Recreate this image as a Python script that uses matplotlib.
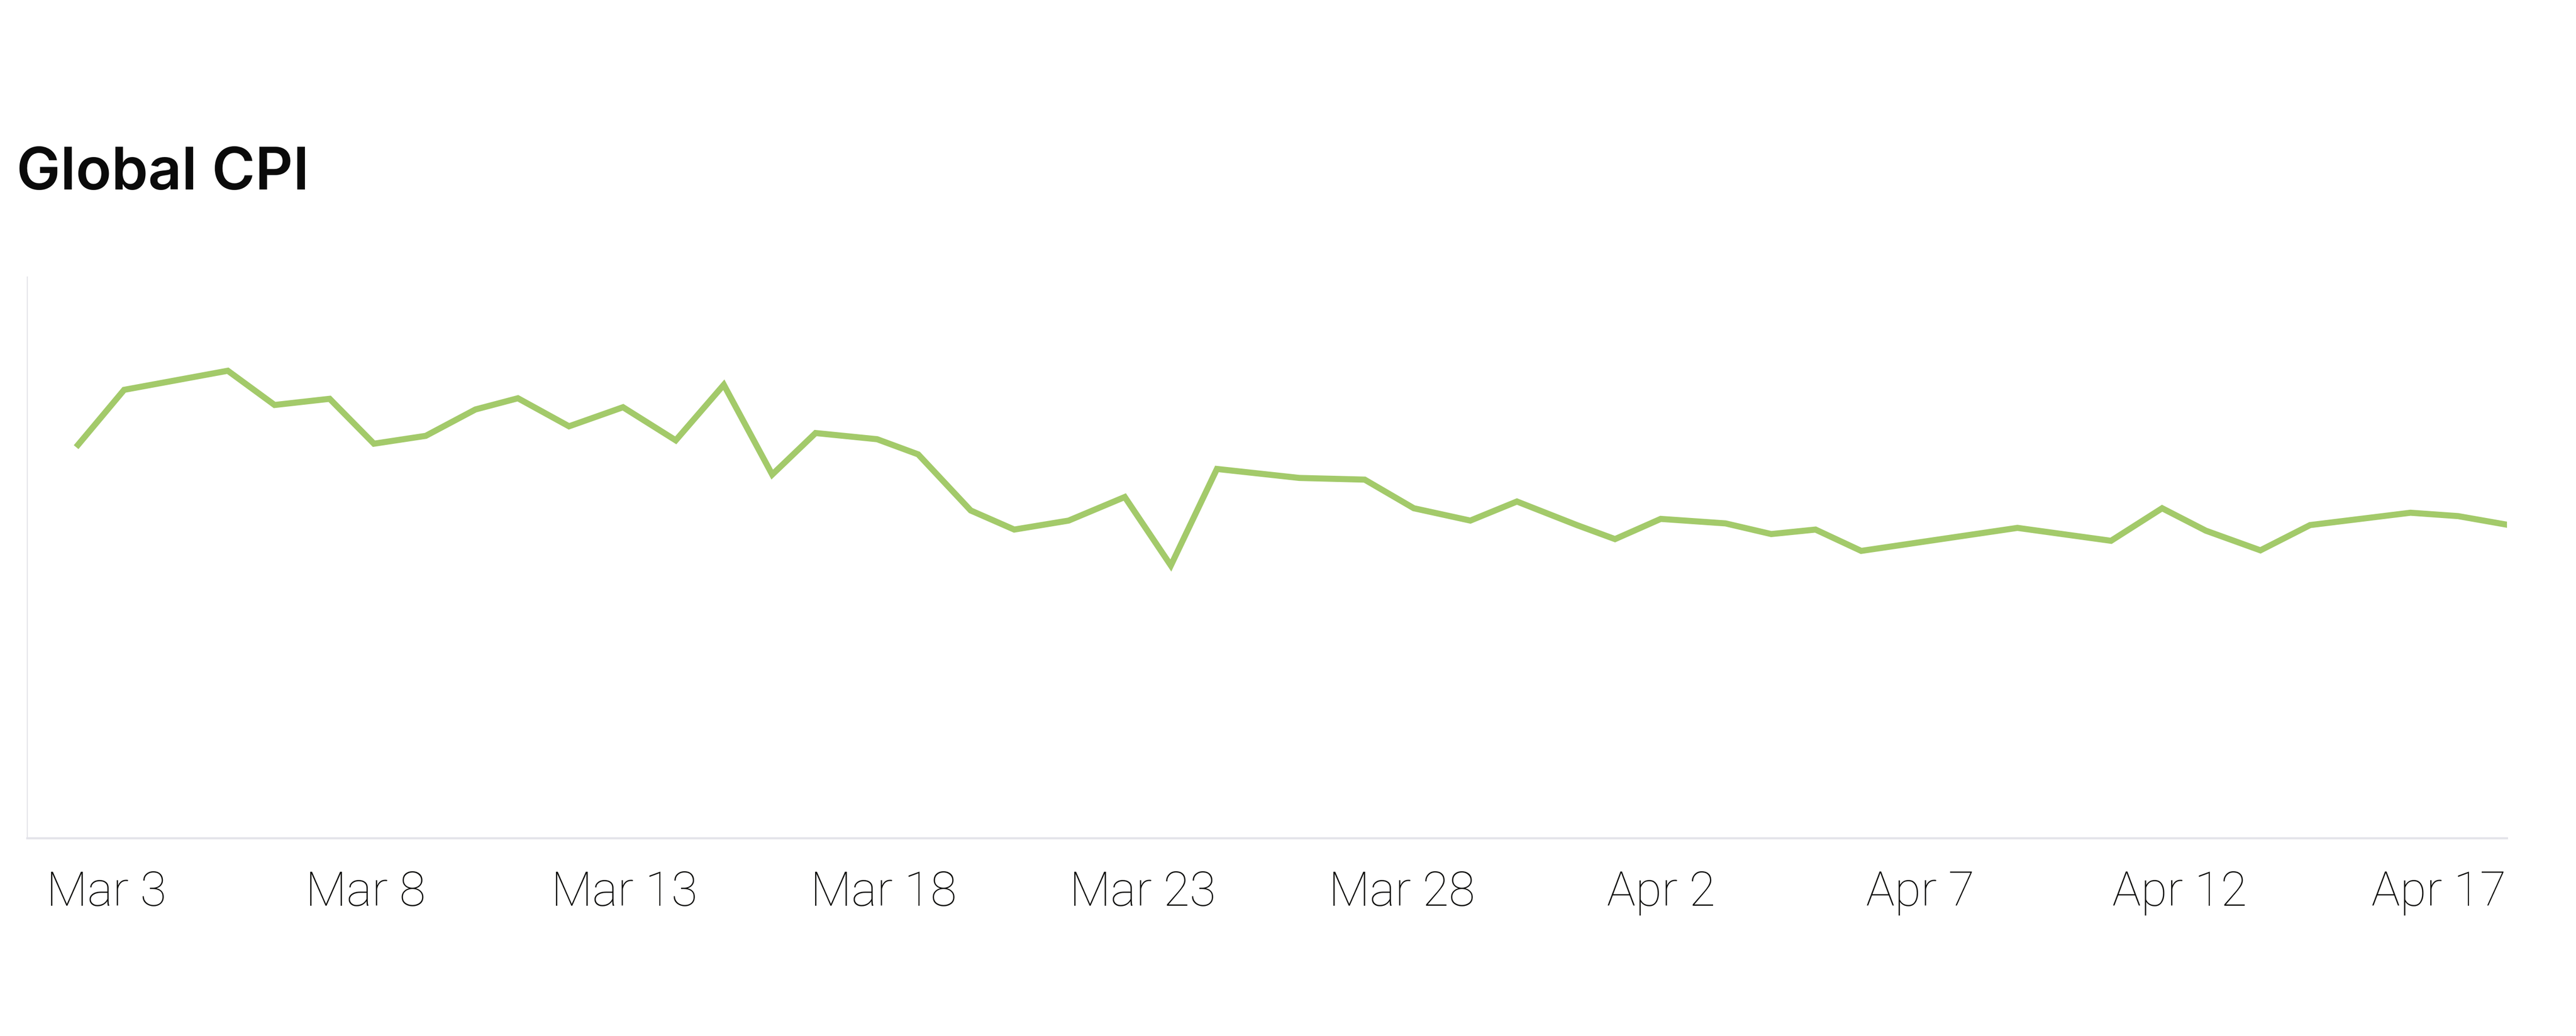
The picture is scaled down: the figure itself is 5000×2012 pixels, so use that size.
import matplotlib
matplotlib.use("Agg")
from matplotlib import pyplot as plt
import matplotlib.dates as mdates
import pandas as pd

# readings taken off the chart (index scale, axis bottom = 0, axis top = 100)
times = [
    "2024-03-02 11:00", "2024-03-03 08:20", "2024-03-05 08:20", "2024-03-06 06:00",
    "2024-03-07 07:30", "2024-03-08 04:00", "2024-03-09 04:00", "2024-03-10 03:00",
    "2024-03-10 22:40", "2024-03-11 22:20", "2024-03-12 23:20", "2024-03-13 23:45",
    "2024-03-14 22:00", "2024-03-15 20:25", "2024-03-16 16:30", "2024-03-17 21:00",
    "2024-03-18 16:00", "2024-03-19 16:20", "2024-03-20 12:30", "2024-03-21 13:40",
    "2024-03-22 15:40", "2024-03-23 13:00", "2024-03-24 10:20", "2024-03-26 00:30",
    "2024-03-27 06:45", "2024-03-28 05:30", "2024-03-29 07:40", "2024-03-30 05:15",
    "2024-03-31 09:00", "2024-04-01 02:40", "2024-04-01 23:50", "2024-04-03 05:50",
    "2024-04-04 03:00", "2024-04-04 23:30", "2024-04-05 20:40", "2024-04-08 21:00",
    "2024-04-10 16:20", "2024-04-11 16:00", "2024-04-12 12:15", "2024-04-13 13:30",
    "2024-04-14 12:30", "2024-04-16 11:00", "2024-04-17 09:00", "2024-04-18 07:10",
]
cpi = [
    70.1, 79.9, 83.3, 77.2, 78.3, 70.3, 71.7, 76.4, 78.4, 73.4, 76.8, 70.9,
    80.8, 64.8, 72.2, 71.1, 68.4, 58.4, 55.0, 56.6, 60.8, 48.6, 65.8, 64.2,
    63.9, 58.8, 56.6, 60.0, 55.8, 53.3, 56.9, 56.1, 54.2, 55.0, 51.2, 55.3,
    53.0, 58.8, 54.8, 51.3, 55.8, 58.0, 57.4, 55.9,
]
tick_days = ["2024-03-03", "2024-03-08", "2024-03-13", "2024-03-18", "2024-03-23",
             "2024-03-28", "2024-04-02", "2024-04-07", "2024-04-12", "2024-04-17"]
title = "Global CPI"

x = pd.to_datetime(times)
ticks = pd.to_datetime(tick_days)

fig = plt.figure(figsize=(50, 20.12), dpi=100)
ax = fig.add_axes([0.0106, 0.1909, 0.9626, 0.5417])

ax.plot(x, cpi, color="#a3ca6a", linewidth=8.5, solid_joinstyle="miter")

ax.set_xlim(pd.Timestamp("2024-03-01 11:30"), pd.Timestamp("2024-04-18 07:40"))
ax.set_ylim(0, 100)

ax.set_xticks(ticks)
ax.xaxis.set_major_formatter(mdates.DateFormatter("%b %-d"))
ax.tick_params(axis="x", length=0, pad=44, labelsize=67, labelcolor="#0d0d0b")
for lab in ax.get_xticklabels():
    lab.set_fontfamily(["Roboto", "DejaVu Sans"])
    lab.set_fontweight("light")
ax.set_yticks([])

for side in ("top", "right"):
    ax.spines[side].set_visible(False)
ax.spines["bottom"].set_color("#e4e4ea")
ax.spines["bottom"].set_linewidth(3)
ax.spines["left"].set_color("#e4e4ea")
ax.spines["left"].set_linewidth(1.5)

fig.text(0.0064, 0.817, title, fontsize=82, fontweight="semibold",
         family=["Inter", "DejaVu Sans"], color="#0a0a0a", va="baseline")

fig.savefig("out.png", dpi=100, facecolor="white")
